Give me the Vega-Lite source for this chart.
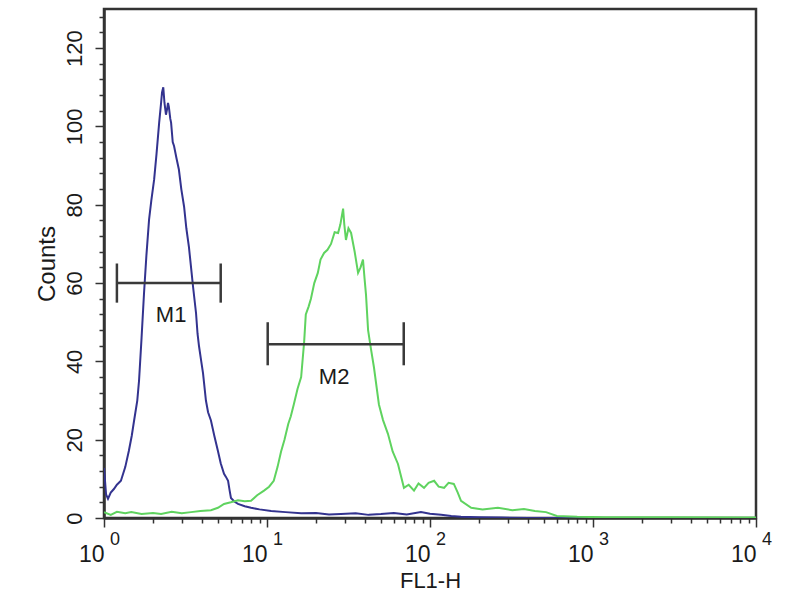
{
  "$schema": "https://vega.github.io/schema/vega-lite/v6.json",
  "autosize": "none",
  "width": 652,
  "height": 509,
  "padding": {"left": 104, "top": 9, "right": 44, "bottom": 82},
  "background": "white",
  "config": {
    "view": {"stroke": "#333333", "strokeWidth": 2.5},
    "axis": {"domainColor": "#333333", "domainWidth": 2.5, "tickColor": "#333333", "tickWidth": 1.5, "labelFont": "Liberation Sans", "titleFont": "Liberation Sans", "labelColor": "#1a1a1a", "titleColor": "#1a1a1a", "grid": false},
    "text": {"font": "Liberation Sans"}
  },
  "datasets": {
    "curves": [
      {"series": "control", "x": 1, "y": 12.8}, {"series": "control", "x": 1.03, "y": 6}, {"series": "control", "x": 1.058, "y": 4.9}, {"series": "control", "x": 1.1, "y": 6.5}, {"series": "control", "x": 1.15, "y": 7.4}, {"series": "control", "x": 1.2, "y": 8.5}, {"series": "control", "x": 1.27, "y": 9.5}, {"series": "control", "x": 1.35, "y": 13}, {"series": "control", "x": 1.42, "y": 17.1}, {"series": "control", "x": 1.48, "y": 21}, {"series": "control", "x": 1.53, "y": 24.9}, {"series": "control", "x": 1.6, "y": 30}, {"series": "control", "x": 1.64, "y": 35}, {"series": "control", "x": 1.7, "y": 46}, {"series": "control", "x": 1.76, "y": 57.4}, {"series": "control", "x": 1.82, "y": 67}, {"series": "control", "x": 1.89, "y": 76.2}, {"series": "control", "x": 1.95, "y": 81}, {"series": "control", "x": 2.03, "y": 86.4}, {"series": "control", "x": 2.1, "y": 93}, {"series": "control", "x": 2.18, "y": 101}, {"series": "control", "x": 2.24, "y": 106}, {"series": "control", "x": 2.27, "y": 108.7}, {"series": "control", "x": 2.31, "y": 110}, {"series": "control", "x": 2.35, "y": 106}, {"series": "control", "x": 2.4, "y": 103}, {"series": "control", "x": 2.44, "y": 104.5}, {"series": "control", "x": 2.47, "y": 106}, {"series": "control", "x": 2.5, "y": 105}, {"series": "control", "x": 2.55, "y": 102}, {"series": "control", "x": 2.58, "y": 101}, {"series": "control", "x": 2.64, "y": 96}, {"series": "control", "x": 2.69, "y": 95}, {"series": "control", "x": 2.78, "y": 92}, {"series": "control", "x": 2.88, "y": 89}, {"series": "control", "x": 2.98, "y": 84}, {"series": "control", "x": 3.1, "y": 79.5}, {"series": "control", "x": 3.2, "y": 74}, {"series": "control", "x": 3.32, "y": 69.2}, {"series": "control", "x": 3.42, "y": 64}, {"series": "control", "x": 3.52, "y": 59}, {"series": "control", "x": 3.67, "y": 52.3}, {"series": "control", "x": 3.75, "y": 47}, {"series": "control", "x": 3.83, "y": 43.8}, {"series": "control", "x": 3.95, "y": 40}, {"series": "control", "x": 4.05, "y": 37}, {"series": "control", "x": 4.22, "y": 30}, {"series": "control", "x": 4.35, "y": 27}, {"series": "control", "x": 4.53, "y": 24.9}, {"series": "control", "x": 4.75, "y": 21}, {"series": "control", "x": 5.0, "y": 17.1}, {"series": "control", "x": 5.2, "y": 14}, {"series": "control", "x": 5.45, "y": 11.3}, {"series": "control", "x": 5.6, "y": 10.5}, {"series": "control", "x": 5.77, "y": 9.5}, {"series": "control", "x": 5.9, "y": 7}, {"series": "control", "x": 6.01, "y": 5.1}, {"series": "control", "x": 6.3, "y": 4.2}, {"series": "control", "x": 6.64, "y": 3.6}, {"series": "control", "x": 7.3, "y": 3}, {"series": "control", "x": 7.98, "y": 2.6}, {"series": "control", "x": 9, "y": 2.2}, {"series": "control", "x": 10.6, "y": 1.8}, {"series": "control", "x": 13, "y": 1.5}, {"series": "control", "x": 16.2, "y": 1.2}, {"series": "control", "x": 20, "y": 1.3}, {"series": "control", "x": 24, "y": 0.9}, {"series": "control", "x": 28.4, "y": 1.0}, {"series": "control", "x": 35, "y": 1.2}, {"series": "control", "x": 42, "y": 0.8}, {"series": "control", "x": 50, "y": 1}, {"series": "control", "x": 60, "y": 1.3}, {"series": "control", "x": 72, "y": 0.9}, {"series": "control", "x": 88, "y": 1.5}, {"series": "control", "x": 100, "y": 1.1}, {"series": "control", "x": 117, "y": 0.8}, {"series": "control", "x": 135, "y": 0.5}, {"series": "control", "x": 155, "y": 0.3}, {"series": "control", "x": 200, "y": 0.2}, {"series": "control", "x": 274, "y": 0.1}, {"series": "control", "x": 400, "y": 0}, {"series": "control", "x": 1000, "y": 0}, {"series": "control", "x": 10000, "y": 0},
      {"series": "sample", "x": 1, "y": 1.5}, {"series": "sample", "x": 1.1, "y": 0.8}, {"series": "sample", "x": 1.2, "y": 1.6}, {"series": "sample", "x": 1.35, "y": 1.2}, {"series": "sample", "x": 1.47, "y": 1.5}, {"series": "sample", "x": 1.7, "y": 1.0}, {"series": "sample", "x": 2.0, "y": 1.3}, {"series": "sample", "x": 2.24, "y": 1}, {"series": "sample", "x": 2.6, "y": 1.6}, {"series": "sample", "x": 3.0, "y": 1.2}, {"series": "sample", "x": 3.42, "y": 1.5}, {"series": "sample", "x": 3.9, "y": 1.8}, {"series": "sample", "x": 4.53, "y": 2}, {"series": "sample", "x": 5.0, "y": 2.6}, {"series": "sample", "x": 5.45, "y": 3.6}, {"series": "sample", "x": 6.0, "y": 4}, {"series": "sample", "x": 6.64, "y": 4.5}, {"series": "sample", "x": 7.3, "y": 4.3}, {"series": "sample", "x": 7.98, "y": 4.4}, {"series": "sample", "x": 8.7, "y": 5.8}, {"series": "sample", "x": 9.59, "y": 7}, {"series": "sample", "x": 10.3, "y": 8}, {"series": "sample", "x": 11.0, "y": 9.5}, {"series": "sample", "x": 11.6, "y": 13}, {"series": "sample", "x": 12.2, "y": 17}, {"series": "sample", "x": 12.8, "y": 20}, {"series": "sample", "x": 13.5, "y": 24}, {"series": "sample", "x": 14.0, "y": 26}, {"series": "sample", "x": 14.6, "y": 29}, {"series": "sample", "x": 15.4, "y": 33}, {"series": "sample", "x": 16.2, "y": 36}, {"series": "sample", "x": 16.9, "y": 45}, {"series": "sample", "x": 17.3, "y": 52}, {"series": "sample", "x": 18.0, "y": 54}, {"series": "sample", "x": 18.6, "y": 56}, {"series": "sample", "x": 19.5, "y": 60}, {"series": "sample", "x": 20.5, "y": 62.6}, {"series": "sample", "x": 21.3, "y": 66}, {"series": "sample", "x": 22.4, "y": 67.7}, {"series": "sample", "x": 23.5, "y": 68.5}, {"series": "sample", "x": 24.7, "y": 70}, {"series": "sample", "x": 26, "y": 73}, {"series": "sample", "x": 27.3, "y": 72.8}, {"series": "sample", "x": 28.2, "y": 75}, {"series": "sample", "x": 29.3, "y": 79}, {"series": "sample", "x": 29.8, "y": 75}, {"series": "sample", "x": 30.5, "y": 71}, {"series": "sample", "x": 31.6, "y": 74}, {"series": "sample", "x": 32.8, "y": 72.8}, {"series": "sample", "x": 34.5, "y": 68}, {"series": "sample", "x": 36.2, "y": 62.6}, {"series": "sample", "x": 37.5, "y": 64}, {"series": "sample", "x": 38.8, "y": 66}, {"series": "sample", "x": 39.7, "y": 61}, {"series": "sample", "x": 40.5, "y": 57}, {"series": "sample", "x": 41.7, "y": 48}, {"series": "sample", "x": 43.5, "y": 43}, {"series": "sample", "x": 45.3, "y": 38.5}, {"series": "sample", "x": 48.6, "y": 29}, {"series": "sample", "x": 51.5, "y": 25}, {"series": "sample", "x": 55.2, "y": 21.5}, {"series": "sample", "x": 59, "y": 17}, {"series": "sample", "x": 63.6, "y": 13.8}, {"series": "sample", "x": 69.2, "y": 7.7}, {"series": "sample", "x": 74, "y": 8.5}, {"series": "sample", "x": 79.8, "y": 7}, {"series": "sample", "x": 85, "y": 8.8}, {"series": "sample", "x": 91.9, "y": 7.7}, {"series": "sample", "x": 98, "y": 9}, {"series": "sample", "x": 106, "y": 9.5}, {"series": "sample", "x": 113, "y": 8}, {"series": "sample", "x": 122, "y": 7.7}, {"series": "sample", "x": 130, "y": 9}, {"series": "sample", "x": 140, "y": 8.7}, {"series": "sample", "x": 148, "y": 6.5}, {"series": "sample", "x": 155, "y": 4.4}, {"series": "sample", "x": 179, "y": 2.6}, {"series": "sample", "x": 210, "y": 2.2}, {"series": "sample", "x": 261, "y": 2.6}, {"series": "sample", "x": 320, "y": 2.0}, {"series": "sample", "x": 377, "y": 2.3}, {"series": "sample", "x": 440, "y": 1.8}, {"series": "sample", "x": 515, "y": 1.5}, {"series": "sample", "x": 600, "y": 0.5}, {"series": "sample", "x": 800, "y": 0.3}, {"series": "sample", "x": 1200, "y": 0.2}, {"series": "sample", "x": 3000, "y": 0.2}, {"series": "sample", "x": 10000, "y": 0.1}
    ],
    "markers": [
      {"name": "M1", "x1": 1.2, "x2": 5.2, "y": 60, "lx": 2.58, "ly": 51.8},
      {"name": "M2", "x1": 10.1, "x2": 69, "y": 44.4, "lx": 25.8, "ly": 35.9}
    ],
    "caps": [
      {"x": 1.2, "ylo": 55, "yhi": 65},
      {"x": 5.2, "ylo": 55, "yhi": 65},
      {"x": 10.1, "ylo": 39, "yhi": 50},
      {"x": 69, "ylo": 39, "yhi": 50}
    ],
    "exps": [
      {"x": 1, "e": "0"}, {"x": 10, "e": "1"}, {"x": 100, "e": "2"}, {"x": 1000, "e": "3"}, {"x": 10000, "e": "4"}
    ]
  },
  "resolve": {"axis": {"x": "independent", "y": "independent"}},
  "layer": [
    {
      "data": {"name": "curves"},
      "mark": {"type": "line", "strokeWidth": 2, "clip": true},
      "encoding": {
        "x": {"field": "x", "type": "quantitative", "scale": {"type": "log", "domain": [1, 10000], "nice": false},
              "axis": {"orient": "bottom", "values": [1, 10, 100, 1000, 10000], "labelExpr": "'10'", "labelAlign": "right", "labelDx": 7, "labelFontSize": 23, "labelPadding": 16, "labelFlush": false, "labelOverlap": false, "tickSize": 9, "title": "FL1-H", "titleFontSize": 22, "titleFontWeight": "normal", "titlePadding": 4}},
        "y": {"field": "y", "type": "quantitative", "scale": {"domain": [0, 130], "nice": false, "zero": true},
              "axis": {"orient": "left", "values": [0, 20, 40, 60, 80, 100, 120], "labelAngle": 270, "labelAlign": "center", "labelBaseline": "bottom", "labelFontSize": 22, "labelPadding": 9, "tickSize": 9, "title": "Counts", "titleFontSize": 24, "titleFontWeight": "normal", "titlePadding": 4}},
        "color": {"field": "series", "type": "nominal", "scale": {"domain": ["control", "sample"], "range": ["#33338f", "#5fd35f"]}, "legend": null}
      }
    },
    {
      "data": {"name": "markers"},
      "mark": {"type": "rule", "color": "#3a3a3a", "strokeWidth": 2.5},
      "encoding": {
        "x": {"field": "x1", "type": "quantitative",
              "axis": {"orient": "bottom", "values": [2, 3, 4, 5, 6, 7, 8, 9, 20, 30, 40, 50, 60, 70, 80, 90, 200, 300, 400, 500, 600, 700, 800, 900, 2000, 3000, 4000, 5000, 6000, 7000, 8000, 9000], "labels": false, "domain": false, "tickSize": 5, "title": null}},
        "x2": {"field": "x2"},
        "y": {"field": "y", "type": "quantitative",
              "axis": {"orient": "left", "values": [4, 8, 12, 16, 24, 28, 32, 36, 44, 48, 52, 56, 64, 68, 72, 76, 84, 88, 92, 96, 104, 108, 112, 116, 124, 128], "labels": false, "domain": false, "tickSize": 5, "title": null}}
      }
    },
    {
      "data": {"name": "caps"},
      "mark": {"type": "rule", "color": "#3a3a3a", "strokeWidth": 2.5},
      "encoding": {
        "x": {"field": "x", "type": "quantitative", "axis": null},
        "y": {"field": "ylo", "type": "quantitative", "axis": null},
        "y2": {"field": "yhi"}
      }
    },
    {
      "data": {"name": "markers"},
      "mark": {"type": "text", "fontSize": 22, "color": "#1a1a1a", "align": "center", "baseline": "middle"},
      "encoding": {
        "x": {"field": "lx", "type": "quantitative", "axis": null},
        "y": {"field": "ly", "type": "quantitative", "axis": null},
        "text": {"field": "name"}
      }
    },
    {
      "data": {"name": "exps"},
      "mark": {"type": "text", "fontSize": 18, "color": "#1a1a1a", "align": "left", "baseline": "alphabetic", "dx": 6, "dy": 27},
      "encoding": {
        "x": {"field": "x", "type": "quantitative", "axis": null},
        "y": {"datum": 0, "type": "quantitative", "axis": null},
        "text": {"field": "e"}
      }
    }
  ]
}
